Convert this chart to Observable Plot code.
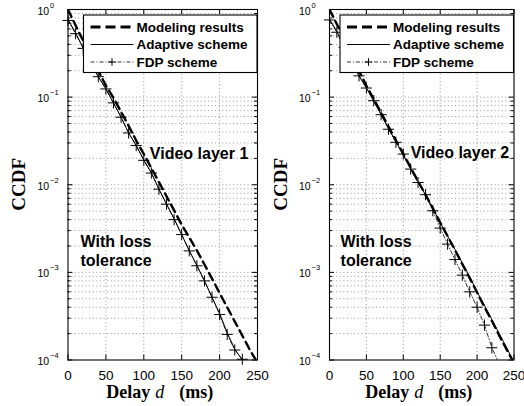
<!DOCTYPE html>
<html><head><meta charset="utf-8">
<script src="https://cdn.jsdelivr.net/npm/d3@7"></script>
<script src="https://cdn.jsdelivr.net/npm/@observablehq/plot@0.6"></script>
<style>
body{margin:0;background:#fff;}
#wrap{position:relative;width:524px;height:406px;background:#fff;}
.panel{position:absolute;top:0;width:262px;height:406px;}
.panel svg{overflow:visible;}
</style></head><body><div id="wrap"></div>
<script>
// ---- data ----
const delays = [0,10,20,30,40,50,60,70,80,90,100,110,120,130,140,150,160,170,180,190,200,210,220,230,240,250];

// Video layer 1
const modeling1 = [1,0.66,0.44,0.295,0.2,0.135,0.098,0.068,0.047,0.032,0.0224,0.0155,0.0107,0.0074,0.0051,0.0035,0.0025,0.00178,0.00123,0.00085,0.00058,0.0004,0.000275,0.00019,0.00013,0.000093];
const adaptive1 = [0.77,0.54,0.365,0.243,0.171,0.124,0.086,0.059,0.039,0.028,0.0192,0.0136,0.0089,0.006,0.0041,0.0027,0.00177,0.0012,0.0008,0.00052,0.00034,0.000205,0.000133,0.0001,0.00006];
const fdp1 = [0.75,0.53,0.36,0.24,0.171,0.124,0.086,0.059,0.039,0.028,0.019,0.0136,0.0089,0.006,0.004,0.0027,0.00176,0.00119,0.0008,0.00052,0.00033,0.000196,0.00013,0.000102];

// Video layer 2
const modeling2 = [1,0.68,0.46,0.305,0.2,0.135,0.095,0.066,0.046,0.032,0.0225,0.0157,0.011,0.0077,0.0054,0.0037,0.0026,0.0018,0.00124,0.00086,0.00059,0.0004,0.00028,0.00019,0.000132,0.000092];
const adaptive2 = [0.78,0.56,0.375,0.25,0.175,0.127,0.09,0.063,0.044,0.031,0.0218,0.0152,0.0107,0.0077,0.0054,0.0037,0.0026,0.00183,0.00128,0.00089,0.0006,0.00042,0.00029,0.0002,0.000138,0.000095];
const fdp2 = [0.76,0.55,0.37,0.25,0.175,0.127,0.091,0.063,0.043,0.0305,0.0224,0.0151,0.0106,0.0077,0.00505,0.0032,0.0021,0.0014,0.00093,0.0006,0.0004,0.00025,0.000138,0.00009];

const xTicks = [0,50,100,150,200,250];
const xGrid = [50,100,150,200];
const yTicks = [1,0.1,0.01,0.001,0.0001];
const yExponents = ["0","\u22121","\u22122","\u22123","\u22124"];
const legendLabels = ["Modeling results","Adaptive scheme","FDP scheme"];
const panelTitles = ["Video layer 1","Video layer 2"];
const noteText = "With loss\ntolerance";
const xLabelParts = ["Delay","d","(ms)"];
const yLabel = "CCDF";

// ---- helpers ----
const SANS = "'Liberation Sans', Arial, Helvetica, sans-serif";
const SERIF = "'Liberation Serif', 'Times New Roman', Times, serif";
const yMinor = [];
for (let k = -4; k <= -1; k++) for (let m = 2; m <= 9; m++) yMinor.push(+(m * Math.pow(10, k)).toPrecision(3));
const yGrid = yMinor.concat([0.1, 0.01, 0.001]);

function rows(vals) { return vals.map((p, i) => ({d: delays[i], p})); }

function panel(cfg) {
  const W = 262, H = 406, mt = 9, mb = 46.5;
  const ml = cfg.ml, mr = cfg.mr;
  const pw = W - ml - mr, ph = H - mt - mb;
  const gridStyle = {stroke: "#000", strokeOpacity: 0.6, strokeWidth: 0.7, strokeDasharray: "1,2.6"};
  const modelStyle = {stroke: "#000", strokeWidth: 2.4, strokeDasharray: "8,5"};
  const adaptStyle = {stroke: "#000", strokeWidth: 1};
  const fdpStyle = {stroke: "#000", strokeWidth: 0.8, strokeDasharray: "4,2,1,2"};
  const chart = Plot.plot({
    width: W, height: H,
    marginLeft: ml, marginRight: mr, marginTop: mt, marginBottom: mb,
    style: {fontFamily: SANS, fontSize: "13.5px", background: "transparent", color: "black", overflow: "visible"},
    x: {domain: [0, 250], ticks: xTicks, tickSize: 0, tickPadding: 10, label: null},
    y: {type: "log", domain: [1e-4, 1], axis: null},
    marks: [
      Plot.ruleX(xGrid, {x: d => d, ...gridStyle}),
      Plot.ruleY(yGrid, {y: d => d, ...gridStyle}),
      Plot.line(rows(cfg.modeling), {x: "d", y: "p", ...modelStyle, clip: true}),
      Plot.line(rows(cfg.adaptive), {x: "d", y: "p", ...adaptStyle, clip: true}),
      Plot.line(rows(cfg.fdp), {x: "d", y: "p", ...fdpStyle, clip: true}),
      Plot.dot(rows(cfg.fdp), {x: "d", y: "p", filter: r => r.p >= 1e-4, symbol: "plus", r: 3.7, stroke: "#000", strokeWidth: 1}),
      Plot.text([{x: cfg.titleX, y: cfg.titleY, t: cfg.title}], {x: "x", y: "y", text: "t", textAnchor: "start", fontWeight: "bold", fontSize: 16, fontFamily: SANS, fill: "#000"}),
      Plot.text([{x: cfg.noteX, y: cfg.noteY, t: noteText}], {x: "x", y: "y", text: "t", textAnchor: "start", fontWeight: "bold", fontSize: 16, fontFamily: SANS, lineHeight: 1.19, fill: "#000"}),
      // inward ticks (left/right, bottom/top)
      Plot.tickY(yTicks, {y: d => d, insetRight: pw - 5, stroke: "#000"}),
      Plot.tickY(yTicks, {y: d => d, insetLeft: pw - 5, stroke: "#000"}),
      Plot.tickY(yMinor, {y: d => d, insetRight: pw - 3, stroke: "#000"}),
      Plot.tickY(yMinor, {y: d => d, insetLeft: pw - 3, stroke: "#000"}),
      Plot.tickX(xTicks, {x: d => d, insetTop: ph - 5, stroke: "#000"}),
      Plot.tickX(xTicks, {x: d => d, insetBottom: ph - 5, stroke: "#000"}),
      Plot.frame({stroke: "#000", strokeWidth: 1.1})
    ]
  });

  const svg = d3.select(chart).style("overflow", "visible");
  const sy = chart.scale("y");
  const g = svg.append("g").attr("text-anchor", "start");
  // y tick labels 10^k
  yTicks.forEach((t, i) => {
    const yy = sy.apply(t);
    g.append("text").attr("x", ml - 18.3).attr("y", yy + 5.5).attr("text-anchor", "end")
      .attr("font-family", SANS).attr("font-size", 10.5).attr("fill", "#000").text("10");
    g.append("text").attr("x", ml - 17.5).attr("y", yy - 1.5).attr("text-anchor", "start")
      .attr("font-family", SANS).attr("font-size", 7.5).attr("fill", "#000").text(yExponents[i]);
  });
  // y axis label
  g.append("text").attr("transform", `translate(25,${mt + ph / 2}) rotate(-90)`).attr("text-anchor", "middle")
    .attr("font-family", SERIF).attr("font-weight", "bold").attr("font-size", 19).attr("fill", "#000").text(yLabel);
  // x axis label
  const cx = ml + pw / 2, by = 397.5;
  g.append("text").attr("x", cx - 56).attr("y", by).attr("text-anchor", "start").attr("font-family", SERIF).attr("font-weight", "bold")
    .attr("font-size", 18).attr("fill", "#000").text(xLabelParts[0]);
  g.append("text").attr("x", cx - 7).attr("y", by).attr("text-anchor", "start").attr("font-family", SERIF).attr("font-style", "italic")
    .attr("font-size", 18).attr("fill", "#000").text(xLabelParts[1]);
  g.append("text").attr("x", cx + 17).attr("y", by).attr("text-anchor", "start").attr("font-family", SERIF).attr("font-weight", "bold")
    .attr("font-size", 18).attr("fill", "#000").text(xLabelParts[2]);

  // legend box
  const right = W - mr, bw = 173.5, bx = right - bw, byTop = 15, bh = 57.5;
  const lg = svg.append("g").attr("text-anchor", "start");
  lg.append("rect").attr("x", bx).attr("y", byTop).attr("width", bw).attr("height", bh)
    .attr("fill", "#fff").attr("stroke", "#000").attr("stroke-width", 1.1);
  const rowsY = [27, 44.5, 62];
  const styles = [modelStyle, adaptStyle, fdpStyle];
  rowsY.forEach((ry, i) => {
    const s = styles[i];
    lg.append("line").attr("x1", bx + 7).attr("x2", bx + 50).attr("y1", ry).attr("y2", ry)
      .attr("stroke", "#000").attr("stroke-width", i === 0 ? 2.8 : s.strokeWidth).attr("stroke-dasharray", i === 0 ? "10,5" : (s.strokeDasharray || null));
    if (i === 2) {
      lg.append("path").attr("d", `M${bx + 28.5 - 3.8},${ry}h7.6M${bx + 28.5},${ry - 3.8}v7.6`).attr("stroke", "#000").attr("stroke-width", 1);
    }
    lg.append("text").attr("x", bx + 53).attr("y", ry).attr("dy", "0.35em").attr("text-anchor", "start").attr("font-family", SANS)
      .attr("font-weight", "bold").attr("font-size", 13.5).attr("fill", "#000").text(legendLabels[i]);
  });
  return chart;
}

const wrap = document.getElementById("wrap");
const p1 = document.createElement("div"); p1.className = "panel"; p1.style.left = "0px";
const p2 = document.createElement("div"); p2.className = "panel"; p2.style.left = "262px";
wrap.appendChild(p1); wrap.appendChild(p2);
p1.appendChild(panel({ml: 67.5, mr: 5, modeling: modeling1, adaptive: adaptive1, fdp: fdp1,
  title: panelTitles[0], titleX: 108, titleY: 0.0225, noteX: 16.5, noteY: 0.00178}));
p2.appendChild(panel({ml: 67, mr: 10.5, modeling: modeling2, adaptive: adaptive2, fdp: fdp2,
  title: panelTitles[1], titleX: 110, titleY: 0.0232, noteX: 15, noteY: 0.00178}));
</script>
</body></html>
